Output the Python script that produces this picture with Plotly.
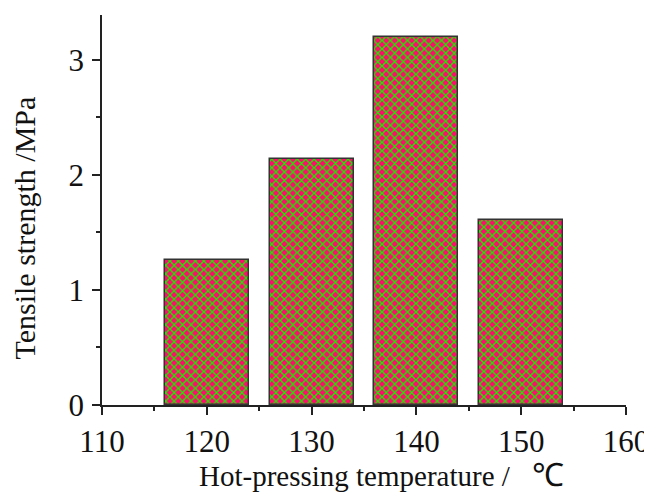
import plotly.graph_objects as go

temperatures = [120, 130, 140, 150]
tensile_strength = [1.26, 2.14, 3.20, 1.61]
x_ticks = [110, 120, 130, 140, 150, 160]
y_ticks = [0, 1, 2, 3]

fig = go.Figure()
fig.add_trace(go.Bar(
    x=temperatures, y=tensile_strength, width=8,
    marker=dict(
        color="#FF0A6E",
        line=dict(color="#333333", width=1.5),
        pattern=dict(shape="x", size=6, solidity=0.42, fgcolor="#22E600",
                     bgcolor="#FF0A6E", fillmode="replace"),
    ),
    showlegend=False,
))

font = "Liberation Serif"
# page body has an 8px default margin, so the figure is sized to fit the window
fig.update_layout(
    width=644, height=485,
    margin=dict(l=94, r=25.5, t=7, b=88, autoexpand=False),
    paper_bgcolor="white", plot_bgcolor="white",
    font=dict(family=font, size=31, color="#111111"),
    bargap=0,
)
fig.update_xaxes(
    range=[110, 160], tickvals=x_ticks, ticktext=[str(v) for v in x_ticks],
    showline=True, linecolor="#222222", linewidth=1.5,
    ticks="outside", ticklen=8, tickwidth=1.5, tickcolor="#222222",
    minor=dict(dtick=5, ticks="outside", ticklen=4, tickwidth=1.5, tickcolor="#222222"),
    showgrid=False, zeroline=False, tickfont=dict(size=31, family=font),
    ticklabelstandoff=0, automargin=False,
)
fig.update_yaxes(
    range=[0, 3.39], tickvals=y_ticks, ticktext=[str(v) for v in y_ticks],
    showline=True, linecolor="#222222", linewidth=1.5,
    ticks="outside", ticklen=8, tickwidth=1.5, tickcolor="#222222",
    minor=dict(dtick=0.5, ticks="outside", ticklen=4, tickwidth=1.5, tickcolor="#222222"),
    showgrid=False, zeroline=False, tickfont=dict(size=31, family=font),
    ticklabelstandoff=2, automargin=False,
)
fig.add_annotation(
    text="Tensile strength /MPa", textangle=-90,
    xref="paper", yref="paper", x=-0.147, y=0.455,
    xanchor="center", yanchor="middle", showarrow=False,
    font=dict(family=font, size=30, color="#111111"),
)
fig.add_annotation(
    text="Hot-pressing temperature /&nbsp;&nbsp;&nbsp;<span style='font-family:Liberation Sans;font-size:32px'>\u2103</span>",
    xref="paper", yref="paper", x=0.181, y=-0.18,
    xanchor="left", yanchor="middle", showarrow=False,
    font=dict(family=font, size=29, color="#111111"),
)
fig.write_html("out.html")
